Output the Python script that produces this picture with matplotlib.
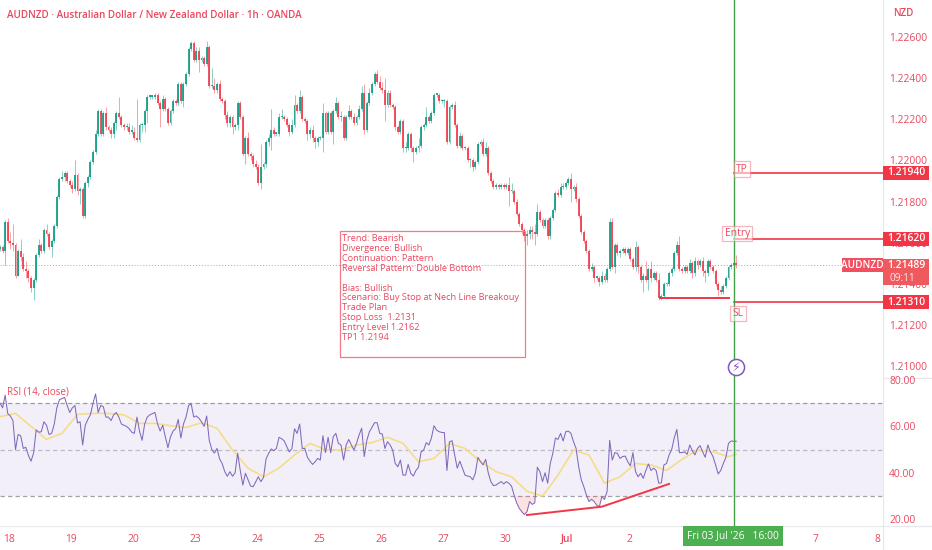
#!/usr/bin/env python3
"""AUDNZD 1h candles with an RSI pane and a bullish trade plan."""

import matplotlib
matplotlib.use('Agg')  # Non-interactive backend
import matplotlib.pyplot as plt
from matplotlib.lines import Line2D
from matplotlib.patches import Rectangle
from matplotlib.transforms import blended_transform_factory
import numpy as np

# Candles are kept in pips above 1.2000; opens follow the previous close
FIRST_OPEN = 157
CLOSE_PIPS = [
    158, 156, 170, 161, 160, 159, 144, 156, 153, 147,
    146, 143, 138, 142, 154, 159, 156, 166, 164, 158,
    161, 168, 182, 191, 192, 194, 190, 188, 186, 193,
    185, 186, 173, 189, 192, 199, 204, 213, 224, 213,
    223, 216, 215, 213, 218, 223, 221, 217, 216, 216,
    214, 214, 211, 210, 217, 217, 224, 231, 231, 231,
    232, 228, 225, 230, 225, 218, 224, 229, 228, 237,
    229, 237, 242, 254, 257, 249, 253, 249, 250, 247,
    255, 236, 236, 234, 237, 230, 229, 222, 218, 221,
    216, 217, 228, 221, 203, 211, 203, 202, 198, 197,
    189, 197, 198, 209, 211, 215, 213, 213, 221, 221,
    220, 217, 214, 217, 227, 224, 231, 220, 219, 213,
    215, 211, 209, 211, 211, 223, 214, 223, 214, 224,
    228, 221, 221, 211, 221, 224, 221, 218, 221, 225,
    233, 215, 228, 233, 237, 242, 238, 235, 234, 227,
    233, 227, 226, 216, 214, 219, 206, 206, 213, 206,
    204, 206, 207, 216, 217, 221, 219, 223, 232, 232,
    229, 229, 229, 209, 226, 227, 217, 207, 212, 206,
    206, 200, 200, 197, 199, 208, 209, 203, 206, 194,
    190, 187, 188, 187, 188, 187, 188, 185, 185, 180,
    174, 169, 166, 163, 164, 166, 165, 164, 175, 171,
    168, 171, 163, 172, 176, 184, 183, 187, 187, 189,
    191, 186, 187, 181, 173, 165, 161, 156, 147, 148,
    143, 143, 141, 144, 142, 147, 170, 148, 159, 155,
    156, 157, 155, 157, 152, 148, 158, 148, 142, 144,
    142, 147, 143, 145, 142, 133, 134, 140, 140, 145,
    147, 155, 159, 147, 146, 148, 146, 150, 145, 151,
    149, 151, 146, 145, 151, 148, 146, 140, 137, 136,
    139, 143, 148, 149, 150, 148.9,
]
UPPER_WICK = [
    1, 1, 1, 2, 4, 9, 1, 1, 6, 2,
    4, 1, 1, 1, 1, 3, 1, 1, 3, 1,
    1, 1, 1, 1, 3, 1, 1, 1, 2, 7,
    1, 1, 1, 1, 1, 1, 1, 2, 1, 1,
    1, 3, 1, 1, 1, 1, 8, 1, 1, 2,
    2, 3, 2, 19, 1, 1, 1, 1, 1, 1,
    1, 1, 1, 2, 1, 1, 1, 1, 1, 1,
    1, 1, 1, 1, 1, 1, 2, 2, 1, 1,
    3, 1, 9, 4, 1, 2, 1, 1, 2, 1,
    1, 1, 1, 1, 1, 1, 3, 1, 1, 2,
    1, 11, 1, 1, 2, 10, 1, 1, 2, 4,
    1, 1, 1, 3, 5, 1, 3, 1, 1, 1,
    1, 2, 1, 1, 1, 5, 1, 1, 1, 1,
    3, 1, 3, 1, 1, 3, 1, 2, 1, 2,
    3, 4, 1, 2, 1, 1, 2, 3, 3, 6,
    1, 1, 1, 1, 1, 1, 1, 3, 1, 1,
    1, 1, 4, 1, 1, 5, 1, 1, 1, 1,
    1, 1, 1, 1, 1, 1, 2, 1, 2, 1,
    1, 1, 1, 1, 1, 1, 1, 2, 3, 1,
    1, 1, 1, 1, 1, 1, 1, 4, 4, 1,
    1, 1, 1, 1, 2, 2, 2, 4, 4, 1,
    1, 1, 1, 1, 1, 1, 2, 2, 2, 1,
    1, 3, 1, 2, 1, 1, 1, 1, 1, 2,
    1, 1, 1, 2, 1, 1, 2, 2, 1, 1,
    1, 1, 1, 1, 1, 1, 3, 1, 1, 1,
    7, 1, 4, 1, 1, 3, 1, 1, 1, 1,
    1, 1, 2, 4, 1, 1, 1, 2, 1, 2,
    1, 1, 2, 1, 1, 1, 1, 1, 1, 2,
    1, 1, 1, 1, 1, 4,
]
LOWER_WICK = [
    1, 1, 7, 1, 3, 3, 1, 0, 2, 1,
    3, 2, 2, 6, 1, 1, 1, 1, 1, 1,
    5, 1, 1, 1, 1, 2, 1, 1, 2, 1,
    2, 6, 1, 1, 2, 1, 1, 1, 1, 1,
    1, 1, 1, 2, 2, 3, 1, 1, 1, 1,
    1, 1, 1, 1, 1, 3, 3, 6, 1, 1,
    1, 1, 9, 1, 1, 1, 1, 1, 1, 1,
    1, 3, 1, 1, 1, 1, 1, 6, 1, 1,
    1, 1, 1, 1, 1, 1, 1, 2, 2, 2,
    3, 1, 2, 1, 1, 5, 1, 2, 1, 1,
    1, 3, 1, 1, 2, 6, 1, 1, 1, 1,
    1, 1, 2, 1, 1, 1, 1, 1, 1, 3,
    2, 2, 3, 2, 1, 7, 1, 1, 1, 6,
    1, 1, 2, 1, 1, 1, 1, 1, 1, 1,
    1, 2, 1, 1, 1, 1, 1, 1, 1, 8,
    1, 1, 1, 1, 1, 1, 2, 2, 1, 2,
    5, 1, 2, 1, 1, 1, 1, 1, 1, 1,
    1, 1, 3, 1, 1, 1, 1, 1, 1, 1,
    1, 1, 3, 2, 1, 1, 1, 1, 1, 1,
    1, 1, 1, 1, 1, 1, 1, 7, 1, 1,
    1, 1, 2, 2, 4, 2, 3, 5, 1, 1,
    1, 1, 1, 1, 1, 1, 1, 1, 1, 1,
    1, 6, 1, 1, 1, 1, 1, 1, 1, 1,
    2, 1, 2, 1, 1, 1, 1, 1, 3, 1,
    2, 1, 1, 1, 1, 1, 2, 3, 1, 6,
    1, 5, 2, 1, 1, 1, 1, 1, 1, 1,
    1, 1, 1, 1, 1, 1, 1, 1, 2, 1,
    2, 1, 2, 4, 1, 1, 1, 1, 3, 1,
    1, 1, 1, 1, 1, 1,
]

RSI_VALUES = [
    70, 68, 73.5, 65.5, 64.5, 62.5, 50, 56.5, 56, 50.5,
    51, 47.5, 45, 48.5, 58.5, 57.5, 57.7, 62, 60.5, 56.5,
    57, 61, 68, 71.5, 72, 72.5, 69, 66, 68, 69,
    61.5, 62, 52, 60.5, 63, 65, 70, 74, 66, 69,
    68.5, 64, 64, 62.5, 65, 66, 64, 61, 60.5, 60,
    59, 57.5, 57, 64, 58, 54, 61, 64, 65, 65.5,
    66, 61, 58, 60.5, 55.5, 50.8, 55.5, 58, 59, 63,
    55, 61, 64, 69, 69.7, 64, 64.5, 63.5, 62, 60,
    64.5, 54, 50, 48.5, 50.5, 46, 44, 40.5, 38.5, 40.5,
    38.5, 40, 48.5, 41, 34.7, 39.8, 37, 34.3, 34, 36.2,
    38.3, 36.2, 38, 46, 48.4, 50.3, 49.5, 50.5, 55.3, 54.7,
    53.8, 51.3, 49, 50.5, 59, 57, 61, 50.5, 50.5, 46.7,
    45, 43.6, 44.8, 46.2, 45.5, 56, 48.7, 55.3, 48.7, 55.6,
    57, 52.7, 52, 45.5, 52, 54.4, 52, 49.8, 52.7, 56.3,
    59.2, 47, 54, 57.7, 59.6, 61.6, 61.6, 57, 56.7, 50.5,
    53.4, 52, 49.8, 44, 42.6, 45.5, 39, 39, 43.6, 39.8,
    38.6, 41, 42.4, 49, 49.8, 53, 52, 55, 60.3, 58.4,
    57.7, 57.4, 57.3, 41, 53.4, 53.8, 47.7, 42, 45, 42,
    39, 38.6, 38.3, 37, 39.8, 46.7, 44.8, 43.4, 45.8, 40,
    36.2, 34.5, 34.7, 35.5, 36.2, 35.2, 36.2, 35.5, 34.3, 30.4,
    27, 24.7, 23.2, 22, 23.2, 27.6, 26.4, 27, 42.4, 40.5,
    36.2, 40, 35.5, 44, 48.4, 55, 54.4, 57, 53.7, 57.7,
    58, 57, 53.4, 50.5, 42.6, 37, 34, 30.4, 27.6, 28.6,
    27.6, 26, 25.4, 29.7, 28.5, 32, 54, 45.5, 48.7, 48.4,
    46.2, 47, 47.2, 44.8, 43, 48.7, 40.5, 38.3, 39.8, 37.6,
    41, 43.8, 41, 42, 41, 35.5, 35.7, 43.4, 44, 47.7,
    50, 55, 58.7, 48.7, 48.7, 49, 48, 52, 49.5, 47.7,
    50.5, 51.7, 49, 46.7, 52, 49, 47, 43.4, 39.5, 41,
    44, 46.7, 52.7, 53.7, 53.6, 53.6,
]

# RSI moving average, one reading every six bars plus the last bar
MA_BARS = [
    0, 6, 12, 18, 24, 30, 36, 42, 48, 54,
    60, 66, 72, 78, 84, 90, 96, 102, 108, 114,
    120, 126, 132, 138, 144, 150, 156, 162, 168, 174,
    180, 186, 192, 198, 204, 210, 216, 222, 228, 234,
    240, 246, 252, 258, 264, 270, 276, 282, 285,
]
MA_VALUES = [
    64.2, 65.6, 60, 54.4, 57, 65.2, 65.6, 65.6, 65, 61.3,
    61.3, 60.3, 59.5, 61.6, 59.2, 49.8, 42, 38.3, 42, 47.7,
    52.7, 50, 49.8, 52, 53, 55.3, 52.7, 44.8, 46.2, 52.7,
    50.5, 44.8, 40.5, 38.3, 32, 30, 39, 49.8, 47.7, 35.5,
    38.3, 44, 43.4, 41, 45.8, 49.8, 49, 47, 48,
]

# Bullish divergence drawn under the RSI lows
DIVERGENCE_BARS = [204, 233, 259]
DIVERGENCE_RSI = [21.8, 25.4, 35.2]

# Trade plan levels
LAST_PRICE = 1.21489
TP_PRICE = 1.2194
ENTRY_PRICE = 1.2162
SL_PRICE = 1.2131
NECKLINE_PRICE = 1.21329
NECKLINE_BARS = [255.5, 282]
CURSOR_BAR = 284

PRICE_TICKS = [1.226, 1.224, 1.222, 1.220, 1.218, 1.216, 1.214, 1.212, 1.210]
RSI_TICKS = [80, 60, 40, 20]
RSI_LEVELS = [70, 50, 30]

FIRST_DAY_BAR = 3.5
DAY_LABELS = ['18', '19', '20', '23', '24', '25', '26', '27', '30', 'Jul', '2', '', '', '7', '8']

PLAN_LINES = [
    'Trend: Bearish',
    'Divergence: Bullish',
    'Continuation: Pattern',
    'Reversal Pattern: Double Bottom',
    '',
    'Bias: Bullish',
    'Scenario: Buy Stop at Nech Line Breakouy',
    'Trade Plan',
    'Stop Loss  1.2131',
    'Entry Level 1.2162',
    'TP1 1.2194',
]

GREEN = '#089981'
RED = '#f23645'
TEXT_RED = '#e8485f'
PALE_RED = '#f2788a'
PURPLE = '#7e57c2'
CURSOR_GREEN = '#43a047'
SEPARATOR = '#e6e8ee'

plt.rcParams['font.family'] = 'Open Sans'

WIDTH, HEIGHT = 932, 550
PANE_RIGHT = 883
MAIN_BOTTOM = 378
RSI_BOTTOM = 526

# Scales of the panes, in pixels per bar, per price unit and per RSI point
PX_PER_BAR = 62 / 24
PX_PER_PRICE = 329 / 0.016
PX_PER_RSI = 2.32


def pane_rect(top, bottom):
    return [0, (HEIGHT - bottom) / HEIGHT, PANE_RIGHT / WIDTH, (bottom - top) / HEIGHT]


def price_tag(ax, price, color, height_px=14):
    """Filled label on the price scale, centred on the given price."""
    trans = blended_transform_factory(ax.transAxes, ax.transData)
    half = height_px / 2 / PX_PER_PRICE
    ax.add_patch(Rectangle((1, price - half), 46 / PANE_RIGHT, 2 * half, transform=trans,
                           facecolor=color, edgecolor='none', clip_on=False, zorder=6))
    ax.text(1 + 23 / PANE_RIGHT, price, f'{price:.5f}', transform=trans, color='white',
            fontsize=7.4, fontweight='semibold', ha='center', va='center', zorder=7, clip_on=False)


def level_label(ax, bar, price, text):
    ax.text(bar, price, text, color=TEXT_RED, fontsize=7.4, ha='left', va='center', zorder=5,
            bbox=dict(facecolor='white', alpha=0.55, edgecolor=PALE_RED, linewidth=0.9, pad=1.6))


fig = plt.figure(figsize=(WIDTH / 100, HEIGHT / 100), dpi=100, facecolor='white')
ax_main = fig.add_axes(pane_rect(0, MAIN_BOTTOM))
ax_rsi = fig.add_axes(pane_rect(MAIN_BOTTOM, RSI_BOTTOM))

# Candles
closes = 1.2 + np.array(CLOSE_PIPS) / 1e4
opens = np.concatenate([[1.2 + FIRST_OPEN / 1e4], closes[:-1]])
highs = np.maximum(opens, closes) + np.array(UPPER_WICK) / 1e4
lows = np.minimum(opens, closes) - np.array(LOWER_WICK) / 1e4
bars = np.arange(len(closes))
colors = [GREEN if c >= o else RED for o, c in zip(opens, closes)]

ax_main.vlines(bars, lows, highs, colors=colors, linewidth=0.6, alpha=0.55, zorder=2)
ax_main.bar(bars, np.maximum(np.abs(closes - opens), 0.00006), bottom=np.minimum(opens, closes),
            width=0.74, color=colors, linewidth=0, alpha=0.85, zorder=3)

ax_main.axhline(LAST_PRICE, color=RED, linewidth=0.7, linestyle=(0, (1, 2)), alpha=0.6, zorder=1)

# Trade levels
for level in (TP_PRICE, ENTRY_PRICE, SL_PRICE):
    ax_main.plot([CURSOR_BAR, 345], [level, level], color=RED, linewidth=1.2, zorder=4)
ax_main.plot(NECKLINE_BARS, [NECKLINE_PRICE, NECKLINE_PRICE], color=RED, linewidth=1.4, zorder=4)

level_label(ax_main, 285.0, TP_PRICE + 0.00018, 'TP')
level_label(ax_main, 280.5, ENTRY_PRICE + 0.00024, 'Entry')
level_label(ax_main, 283.5, SL_PRICE - 0.00055, 'SL')

# Trade plan note
ax_main.add_patch(Rectangle((131.6, 1.21044), 71.6, 1.21657 - 1.21044, facecolor='none',
                            edgecolor=PALE_RED, linewidth=0.9, zorder=5))
ax_main.text(132.4, 1.2164, '\n'.join(PLAN_LINES), color=TEXT_RED, fontsize=6.6,
             ha='left', va='top', linespacing=1.12, zorder=5)

# Price scale
ax_main.set_xlim(0, PANE_RIGHT / PX_PER_BAR)
ax_main.set_ylim(1.226 - (MAIN_BOTTOM - 37) / PX_PER_PRICE, 1.226 + 37 / PX_PER_PRICE)
ax_main.yaxis.tick_right()
ax_main.set_yticks(PRICE_TICKS, [f'{p:.5f}' for p in PRICE_TICKS])
ax_main.tick_params(axis='y', length=0, pad=4.5, labelsize=7.4, labelcolor=TEXT_RED)
ax_main.tick_params(axis='x', length=0, labelbottom=False)
for spine in ax_main.spines.values():
    spine.set_visible(False)

price_tag(ax_main, TP_PRICE, RED)
price_tag(ax_main, ENTRY_PRICE, RED)
price_tag(ax_main, SL_PRICE, RED)

# Last price with its countdown and the symbol flag
trans_main = blended_transform_factory(ax_main.transAxes, ax_main.transData)
half_px = 7 / PX_PER_PRICE
ax_main.add_patch(Rectangle((1, LAST_PRICE - 20 / PX_PER_PRICE), 46 / PANE_RIGHT, 26 / PX_PER_PRICE,
                            transform=trans_main, facecolor='#ef5a5f', edgecolor='none',
                            clip_on=False, zorder=6))
ax_main.text(1 + 23 / PANE_RIGHT, LAST_PRICE, f'{LAST_PRICE:.5f}', transform=trans_main, color='white',
             fontsize=7.4, fontweight='semibold', ha='center', va='center', clip_on=False, zorder=7)
ax_main.text(1 + 7 / PANE_RIGHT, LAST_PRICE - 13 / PX_PER_PRICE, '09:11', transform=trans_main,
             color='#fde3e3', fontsize=7.2, ha='left', va='center', clip_on=False, zorder=7)
ax_main.add_patch(Rectangle((1 - 41 / PANE_RIGHT, LAST_PRICE - half_px), 41 / PANE_RIGHT, 2 * half_px,
                            transform=trans_main, facecolor='#f0505f', edgecolor='none', zorder=6))
ax_main.text(1 - 20.5 / PANE_RIGHT, LAST_PRICE, 'AUDNZD', transform=trans_main, color='white',
             fontsize=7.2, fontweight='semibold', ha='center', va='center', zorder=7)

# Header and currency
ax_main.text(7 / PANE_RIGHT, 1 - 15 / MAIN_BOTTOM, 'AUDNZD · Australian Dollar / New Zealand Dollar · 1h · OANDA',
             transform=ax_main.transAxes, color=TEXT_RED, fontsize=7.1, fontweight='semibold', va='center')
ax_main.text(1 + 20 / PANE_RIGHT, 1 - 14 / MAIN_BOTTOM, 'NZD', transform=ax_main.transAxes,
             color=TEXT_RED, fontsize=7, fontweight='semibold', ha='center', va='center', clip_on=False)

# Cursor line through both panes, with the alert badge
ax_main.axvline(CURSOR_BAR, color=CURSOR_GREEN, linewidth=1.0, zorder=4)
ax_rsi.axvline(CURSOR_BAR, color=CURSOR_GREEN, linewidth=1.0, zorder=4)
ax_main.scatter([285], [1.20995], s=135, facecolor='white', edgecolor=PURPLE, linewidth=1.1, zorder=6)
ax_main.text(285, 1.20995, '\u26a1', color=PURPLE, fontsize=9, ha='center', va='center',
             family='DejaVu Sans', zorder=7)

# RSI pane
rsi = np.array(RSI_VALUES)
ax_rsi.axhspan(RSI_LEVELS[2], RSI_LEVELS[0], color=PURPLE, alpha=0.09, linewidth=0, zorder=1)
for level in RSI_LEVELS:
    ax_rsi.axhline(level, color='#787b86', linewidth=0.9, linestyle=(0, (3.5, 2.5)),
                   alpha=0.45 if level == 50 else 0.7, zorder=2)
ax_rsi.fill_between(bars, rsi, 30, where=rsi < 30, interpolate=True, color=RED, alpha=0.14,
                    linewidth=0, zorder=2)
ax_rsi.plot(MA_BARS, MA_VALUES, color='#f3dd8a', linewidth=1.2, zorder=3)
ax_rsi.plot(bars, rsi, color='#8069bb', linewidth=0.75, zorder=3)
ax_rsi.plot(DIVERGENCE_BARS, DIVERGENCE_RSI, color=RED, linewidth=1.4, zorder=4)

ax_rsi.set_xlim(ax_main.get_xlim())
ax_rsi.set_ylim(80 - (RSI_BOTTOM - 380) / PX_PER_RSI, 80 + 2 / PX_PER_RSI)
ax_rsi.yaxis.tick_right()
ax_rsi.set_yticks(RSI_TICKS, [f'{r:.2f}' for r in RSI_TICKS])
ax_rsi.tick_params(axis='y', length=0, pad=4.5, labelsize=7.4, labelcolor=TEXT_RED)
for spine in ax_rsi.spines.values():
    spine.set_visible(False)
ax_rsi.text(7 / PANE_RIGHT, 1 - 14 / (RSI_BOTTOM - MAIN_BOTTOM), 'RSI (14, close)', color=TEXT_RED,
            fontsize=7, transform=ax_rsi.transAxes, va='center')

# Time scale
day_ticks = [FIRST_DAY_BAR + 24 * i for i in range(len(DAY_LABELS))]
ax_rsi.set_xticks(day_ticks, DAY_LABELS)
ax_rsi.tick_params(axis='x', length=0, pad=6, labelsize=7.4, labelcolor=TEXT_RED)
for tick in ax_rsi.get_xticklabels():
    if tick.get_text() == 'Jul':
        tick.set_fontweight('semibold')

trans_rsi = blended_transform_factory(ax_rsi.transData, ax_rsi.transAxes)
pane_px = RSI_BOTTOM - MAIN_BOTTOM
ax_rsi.add_patch(Rectangle((CURSOR_BAR - 50.5 / PX_PER_BAR, -20 / pane_px), 100 / PX_PER_BAR, 20 / pane_px,
                           transform=trans_rsi, facecolor='#4caf50', edgecolor='none', clip_on=False, zorder=6))
ax_rsi.text(CURSOR_BAR - 0.5 / PX_PER_BAR, -10 / pane_px, "Fri 03 Jul '26   16:00", transform=trans_rsi,
            color='white', fontsize=7.4, ha='center', va='center', clip_on=False, zorder=7)

# Pane separators
for x0, x1, y0, y1 in ((PANE_RIGHT, PANE_RIGHT, 0, HEIGHT), (0, WIDTH, MAIN_BOTTOM, MAIN_BOTTOM),
                       (0, WIDTH, RSI_BOTTOM, RSI_BOTTOM)):
    fig.add_artist(Line2D([x0 / WIDTH, x1 / WIDTH], [1 - y0 / HEIGHT, 1 - y1 / HEIGHT],
                          color=SEPARATOR, linewidth=0.9, zorder=0))

fig.savefig('out.png', dpi=100)
plt.close(fig)
